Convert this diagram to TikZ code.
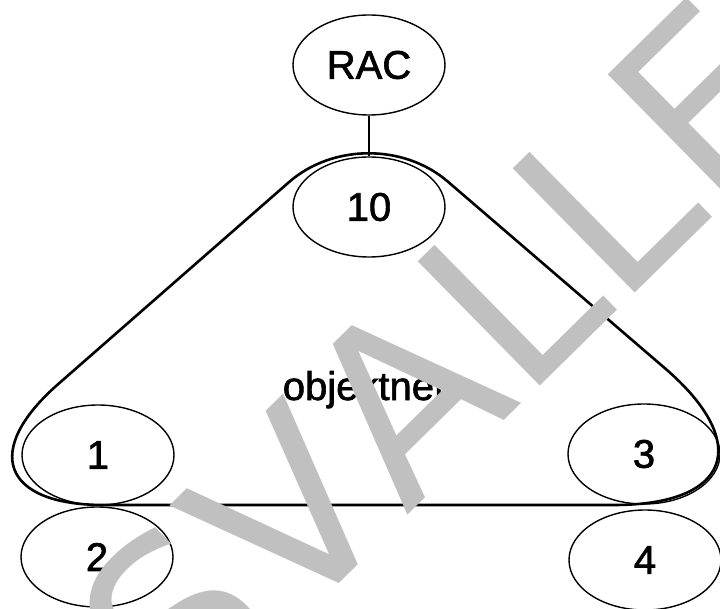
\documentclass[tikz,border=0pt]{standalone}
\usepackage{fontspec}
\setmainfont{Liberation Sans}
\newfontface\labelfont[FakeBold=1.6]{Liberation Sans}
\newfontfamily\markfont[Kerning=Off]{DejaVu Sans}
\usetikzlibrary{shapes.geometric}
\definecolor{markgray}{RGB}{192,192,192}

\begin{document}
\begin{tikzpicture}[
        x=1pt, y=-1pt,
        every node/.style={font=\labelfont\fontsize{40}{48}\selectfont},
        obj/.style={ellipse, draw, line width=1.4pt, minimum width=152pt, minimum height=100pt, inner sep=0pt},
        hull/.style={draw, line width=2.6pt},
        link/.style={draw, line width=2.4pt},
        stamp/.style={text=markgray, inner sep=0pt, font=\markfont\fontsize{239}{239}\selectfont}
    ]
 \useasboundingbox (0,0) rectangle (720,609);
 \clip (0,0) rectangle (720,609);
 \node[obj] (rac) at (369,65)  {RAC};
 \node[obj] (n10) at (369,207) {10};
 \node[obj] (n1)  at (98,455)  {1};
 \node[obj] (n2)  at (97,557)  {2};
 \node[obj] (n3)  at (644,454) {3};
 \node[obj] (n4)  at (645,560) {4};
 \node[anchor=base] (net) at (364,400) {objektnet};
 \coordinate (apex)  at (368,113);
 \coordinate (left)  at (-80,505);
 \coordinate (right) at (824,505);
 \draw[hull] (370,505) [rounded corners=210pt] -- (right)
     [rounded corners=105pt] -- (apex)
     [rounded corners=184pt] -- (left) -- cycle;
 \draw[link] (rac) -- (n10);
 \node[stamp, anchor=base west, rotate=44.5] (mark) at (182,738) {SVALLE};
\end{tikzpicture}
\end{document}
